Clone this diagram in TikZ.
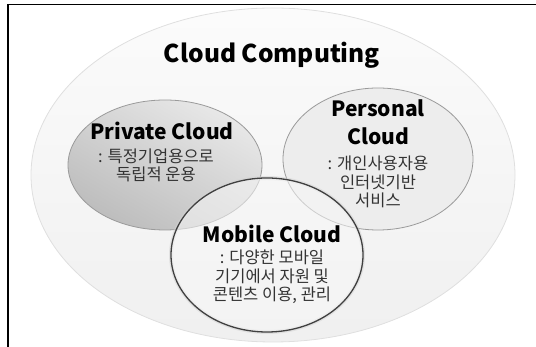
\documentclass[tikz,border=0pt]{standalone}
\usepackage{fontspec}
\setmainfont{Noto Sans CJK KR}
\usepackage{tikz}
\usetikzlibrary{positioning, shapes.geometric}
\definecolor{rimgray}{HTML}{9A9A9A}
\definecolor{txtgray}{HTML}{333333}

\begin{document}
\begin{tikzpicture}[x=1pt, y=1pt]
\tikzset{SetBox/.style={shape=ellipse, draw=rimgray, line width=0.8pt, inner sep=0pt}}
\tikzset{Head/.style={font=\fontsize{21}{28}\selectfont\bfseries, text=black, align=center, inner sep=0pt}}
\tikzset{Desc/.style={font=\fontsize{16.5}{18.5}\selectfont, text=txtgray, align=center, inner sep=0pt}}
\useasboundingbox (0,0) rectangle (536,347);

% frame
\draw[line width=1.4pt] (8,0) -- (8,342.5) -- (536,342.5);

% ellipses
\node[SetBox, draw=gray!25, top color=gray!3, bottom color=gray!12, minimum width=484pt, minimum height=334pt] (cc) at (273,172) {};
\node[SetBox, left color=gray!18, right color=gray!52, shading angle=-30, minimum width=194pt, minimum height=130pt] (priv) at (165,182) {};
\node[SetBox, fill=gray!14, minimum width=190pt, minimum height=142pt] (pers) at (378,188) {};
\node[SetBox, draw=gray!35, line width=4pt, opacity=0.5, minimum width=192pt, minimum height=154pt] (mobglow) at (267,92) {};
\node[SetBox, draw=black!75, line width=1.3pt, fill=gray!6, fill opacity=0.55, minimum width=192pt, minimum height=154pt] (mob) at (267,92) {};

% labels
\node[Head, font=\fontsize{24.5}{30}\selectfont\bfseries] (ccT) at (272,292) {Cloud Computing};

\node[Head] (privT) at (162,216) {Private Cloud};
\node[Desc] (privD) at (156,181.5) {: 특정기업용으로\\독립적 운용};

\node[Head] (persT) at (378,225) {Personal\\Cloud};
\node[Desc] (persD) at (378,165) {: 개인사용자용\\인터넷기반\\서비스};

\node[Head] (mobT) at (272,113) {Mobile Cloud};
\node[Desc] (mobD) at (272,70) {: 다양한 모바일\\기기에서 자원 및\\콘텐츠 이용, 관리};
\end{tikzpicture}
\end{document}
